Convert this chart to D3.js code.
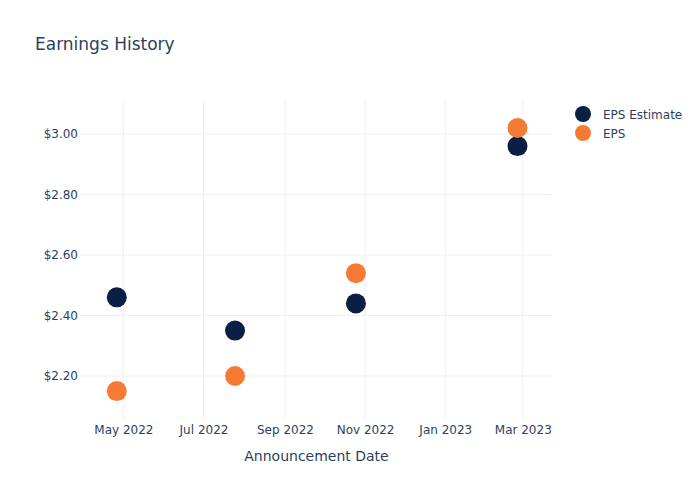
<!DOCTYPE html>
<html><head><meta charset="utf-8">
<script src="https://cdn.jsdelivr.net/npm/d3@7"></script>
<style>body{margin:0;background:#fff}svg{display:block;font-family:"DejaVu Sans",sans-serif}</style>
</head><body><svg id="c" width="700" height="500"></svg>
<script>
const dates = ["2022-04-26","2022-07-25","2022-10-25","2023-02-25"];
const epsEstimate = [2.46, 2.35, 2.44, 2.96];
const eps = [2.15, 2.20, 2.54, 3.02];
const yTicks = [2.2, 2.4, 2.6, 2.8, 3.0];
const xTicks = ["2022-05-01","2022-07-01","2022-09-01","2022-11-01","2023-01-01","2023-03-01"];
const seriesNames = ["EPS Estimate","EPS"];
const colors = ["#0b1f45","#f57b35"];

const FONT = "'DejaVu Sans',sans-serif";
const parse = d3.utcParse("%Y-%m-%d");
const svg = d3.select("#c");
const L=80, R=553, T=100, B=420;
const x = d3.scaleUtc().domain([parse("2022-03-29"), parse("2023-03-24")]).range([L,R]);
const y = d3.scaleLinear().domain([2.0545, 3.1124]).range([B,T]);

const grid = svg.append("g");
grid.selectAll("line.v").data(xTicks).join("line")
  .attr("x1",d=>x(parse(d))).attr("x2",d=>x(parse(d))).attr("y1",T).attr("y2",B)
  .attr("stroke","#ebf0f8").attr("stroke-width",1);
grid.selectAll("line.h").data(yTicks).join("line")
  .attr("y1",d=>y(d)).attr("y2",d=>y(d)).attr("x1",L).attr("x2",R)
  .attr("stroke","#ebf0f8").attr("stroke-width",1);

const xAxis = d3.axisBottom(x).tickValues(xTicks.map(parse)).tickFormat(d3.utcFormat("%b %Y")).tickSize(0).tickPadding(5);
svg.append("g").attr("transform",`translate(0,${B})`).call(xAxis)
  .call(g=>g.select(".domain").remove())
  .selectAll("text").attr("fill","#2a3f5f").attr("font-size",12).attr("font-family",FONT);
const yAxis = d3.axisLeft(y).tickValues(yTicks).tickFormat(d=>"$"+d3.format(".2f")(d)).tickSize(0).tickPadding(2);
svg.append("g").attr("transform",`translate(${L},0)`).call(yAxis)
  .call(g=>g.select(".domain").remove())
  .selectAll("text").attr("fill","#2a3f5f").attr("font-size",12).attr("font-family",FONT);

const series = [epsEstimate, eps];
series.forEach((vals,i)=>{
  svg.append("g").selectAll("circle").data(vals).join("circle")
    .attr("cx",(d,j)=>x(parse(dates[j]))).attr("cy",d=>y(d)).attr("r",10)
    .attr("fill",colors[i]);
});

svg.append("text").attr("x",35).attr("y",50).text("Earnings History")
  .attr("fill","#2a3f5f").attr("font-size",17).attr("font-family",FONT);
svg.append("text").attr("x",(L+R)/2).attr("y",461).attr("text-anchor","middle").text("Announcement Date")
  .attr("fill","#2a3f5f").attr("font-size",14).attr("font-family",FONT);

const leg = svg.append("g");
seriesNames.forEach((n,i)=>{
  const yy = 114 + i*19;
  leg.append("circle").attr("cx",583).attr("cy",yy).attr("r",8).attr("fill",colors[i]);
  leg.append("text").attr("x",603).attr("y",yy+4.5).text(n).attr("fill","#2a3f5f").attr("font-size",12).attr("font-family",FONT);
});
</script></body></html>
